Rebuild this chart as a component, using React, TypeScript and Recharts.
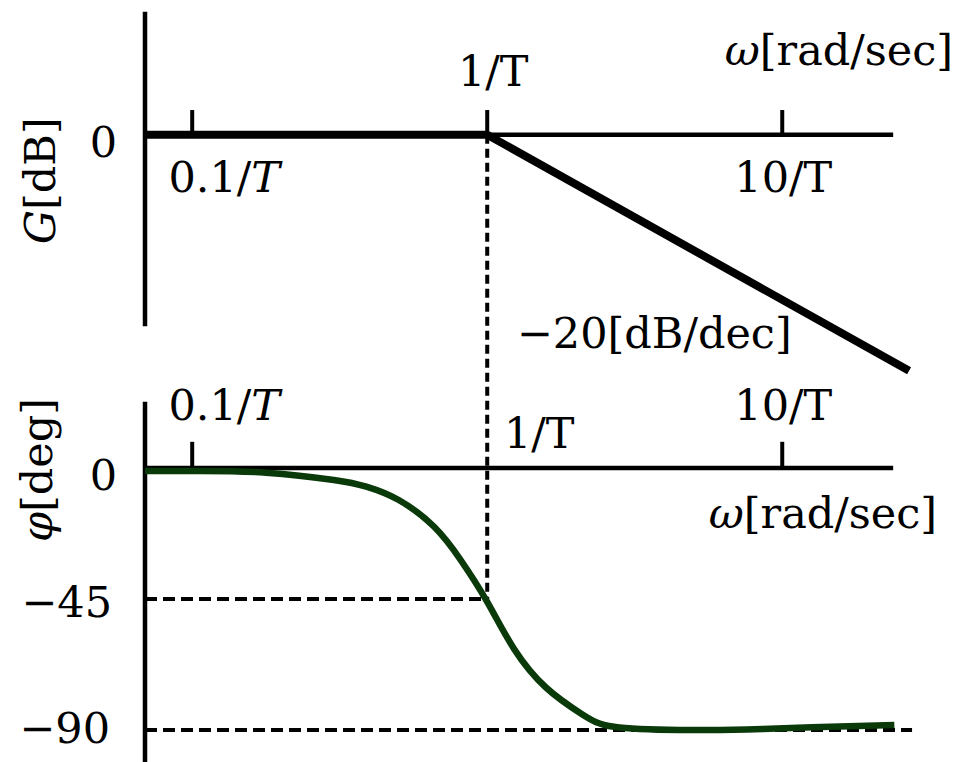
import { ComposedChart, Line, XAxis, YAxis, ReferenceLine, ReferenceDot } from 'recharts';

// x values are log10(ωT): -1 = 0.1/T, 0 = 1/T, 1 = 10/T
const GAIN_W = [-1.16, 0, 1.43];
const GAIN_DB = [0, 0, -28.6];

const PHASE_W = [-1.16, -0.97, -0.75, -0.52, -0.41, -0.3, -0.18, -0.09, 0, 0.09, 0.2, 0.32, 0.43, 0.65, 0.88, 1.1, 1.38];
const PHASE_DEG = [-1, -1, -1.6, -4.1, -6.4, -11, -20.2, -31.6, -46, -62, -75.5, -84.5, -88.9, -90, -89.8, -89.1, -88.3];

const GAIN_TICKS = [-1, 0, 1];
const PHASE_TICKS = [-1, 1];
const PHASE_GUIDES = [-45, -90];

const W_DOMAIN = [-1.16, 1.45];
const GAIN_DOMAIN = [-76, 15];
const PHASE_DOMAIN = [-101, 157];
const AXIS_END = 1.376;

const gainData = GAIN_W.map((w, i) => ({ w, g: GAIN_DB[i] }));
const phaseData = PHASE_W.map((w, i) => ({ w, p: PHASE_DEG[i] }));

// both y axes share the plot height, so a phase value can be expressed in dB
const phaseToGain = (p: number) =>
  GAIN_DOMAIN[1] -
  ((PHASE_DOMAIN[1] - p) * (GAIN_DOMAIN[1] - GAIN_DOMAIN[0])) / (PHASE_DOMAIN[1] - PHASE_DOMAIN[0]);

const FONT = '"DejaVu Serif", serif';
const GREEN = '#0a3a0a';

function note(
  key: string,
  x: number,
  y: number,
  axis: string,
  dx: number,
  dy: number,
  content: React.ReactNode,
  anchor: 'start' | 'middle' | 'end' = 'middle',
  rotate = false
) {
  return (
    <ReferenceDot
      key={key}
      x={x}
      y={y}
      yAxisId={axis}
      r={0}
      ifOverflow="visible"
      shape={(p: any) => {
        const tx = p.cx + dx;
        const ty = p.cy + dy;
        return (
          <text
            x={tx}
            y={ty}
            textAnchor={anchor}
            dominantBaseline={rotate ? 'central' : undefined}
            transform={rotate ? `rotate(-90 ${tx} ${ty})` : undefined}
            fontFamily={FONT}
            fontSize={43}
            fill="#000"
          >
            {content}
          </text>
        );
      }}
    />
  );
}

const it = (s: string) => <tspan fontStyle="italic">{s}</tspan>;

export default function App() {
  const left = W_DOMAIN[0];
  return (
    <div style={{ position: 'absolute', left: 0, top: 0, width: 959, height: 762, background: '#fff' }}>
      <ComposedChart width={959} height={762} margin={{ top: 11, right: 44, bottom: 0, left: 145 }}>
        <XAxis type="number" dataKey="w" domain={W_DOMAIN} allowDataOverflow hide />
        <YAxis yAxisId="gain" type="number" domain={GAIN_DOMAIN} allowDataOverflow hide />
        <YAxis yAxisId="phase" type="number" domain={PHASE_DOMAIN} allowDataOverflow hide />

        {/* gain axes */}
        <ReferenceLine yAxisId="gain" segment={[{ x: left, y: 14.9 }, { x: left, y: -23.2 }]} stroke="#000" strokeWidth={4.5} ifOverflow="visible" />
        <ReferenceLine yAxisId="gain" segment={[{ x: left, y: 0 }, { x: AXIS_END, y: 0 }]} stroke="#000" strokeWidth={4.5} ifOverflow="visible" />
        {GAIN_TICKS.map((w) => (
          <ReferenceLine key={`gt${w}`} yAxisId="gain" segment={[{ x: w, y: 0 }, { x: w, y: 3 }]} stroke="#000" strokeWidth={4} ifOverflow="visible" />
        ))}

        {/* phase axes */}
        <ReferenceLine yAxisId="phase" segment={[{ x: left, y: 22.8 }, { x: left, y: -101 }]} stroke="#000" strokeWidth={4.5} ifOverflow="visible" />
        <ReferenceLine yAxisId="phase" segment={[{ x: left, y: 0 }, { x: AXIS_END, y: 0 }]} stroke="#000" strokeWidth={4.5} ifOverflow="visible" />
        {PHASE_TICKS.map((w) => (
          <ReferenceLine key={`pt${w}`} yAxisId="phase" segment={[{ x: w, y: 0 }, { x: w, y: 9 }]} stroke="#000" strokeWidth={4} ifOverflow="visible" />
        ))}

        {/* guides: corner frequency and the -45 / -90 levels */}
        <ReferenceLine yAxisId="gain" segment={[{ x: 0, y: 0 }, { x: 0, y: phaseToGain(PHASE_GUIDES[0]) }]} stroke="#000" strokeWidth={4} strokeDasharray="9 5" ifOverflow="visible" />
        <ReferenceLine yAxisId="phase" segment={[{ x: left, y: PHASE_GUIDES[0] }, { x: 0, y: PHASE_GUIDES[0] }]} stroke="#000" strokeWidth={4} strokeDasharray="12 6" ifOverflow="visible" />
        <ReferenceLine yAxisId="phase" segment={[{ x: left, y: PHASE_GUIDES[1] }, { x: 1.44, y: PHASE_GUIDES[1] }]} stroke="#000" strokeWidth={4} strokeDasharray="12 6" ifOverflow="visible" />

        <Line data={gainData} dataKey="g" yAxisId="gain" type="linear" stroke="#000" strokeWidth={8} dot={false} activeDot={false} isAnimationActive={false} />
        <Line data={phaseData} dataKey="p" yAxisId="phase" type="natural" stroke={GREEN} strokeWidth={6.5} dot={false} activeDot={false} isAnimationActive={false} />

        {/* gain labels */}
        {note('gy', left, 0, 'gain', -105, 46, <>{it('G')}[dB]</>, 'middle', true)}
        {note('g0', left, 0, 'gain', -28, 22, '0', 'end')}
        {note('g01', -1, 0, 'gain', 32, 57, <>0.1/{it('T')}</>)}
        {note('g1', 0, 0, 'gain', 6, -49, '1/T')}
        {note('g10', 1, 0, 'gain', 1, 57, '10/T')}
        {note('gw', AXIS_END, 0, 'gain', 60, -70, <>{it('ω')}[rad/sec]</>, 'end')}
        {note('gs', 1, -20, 'gain', -128, 48, '−20[dB/dec]')}

        {/* phase labels */}
        {note('py', left, 0, 'phase', -108, 2, <>{it('φ')}[deg]</>, 'middle', true)}
        {note('p0', left, 0, 'phase', -28, 22, '0', 'end')}
        {note('p45', left, PHASE_GUIDES[0], 'phase', -33, 18, '−45', 'end')}
        {note('p90', left, PHASE_GUIDES[1], 'phase', -35, 13, '−90', 'end')}
        {note('p01', -1, 0, 'phase', 32, -48, <>0.1/{it('T')}</>)}
        {note('p1', 0, 0, 'phase', 52, -20, '1/T')}
        {note('p10', 1, 0, 'phase', 1, -48, '10/T')}
        {note('pw', AXIS_END, 0, 'phase', 44, 60, <>{it('ω')}[rad/sec]</>, 'end')}
      </ComposedChart>
    </div>
  );
}
